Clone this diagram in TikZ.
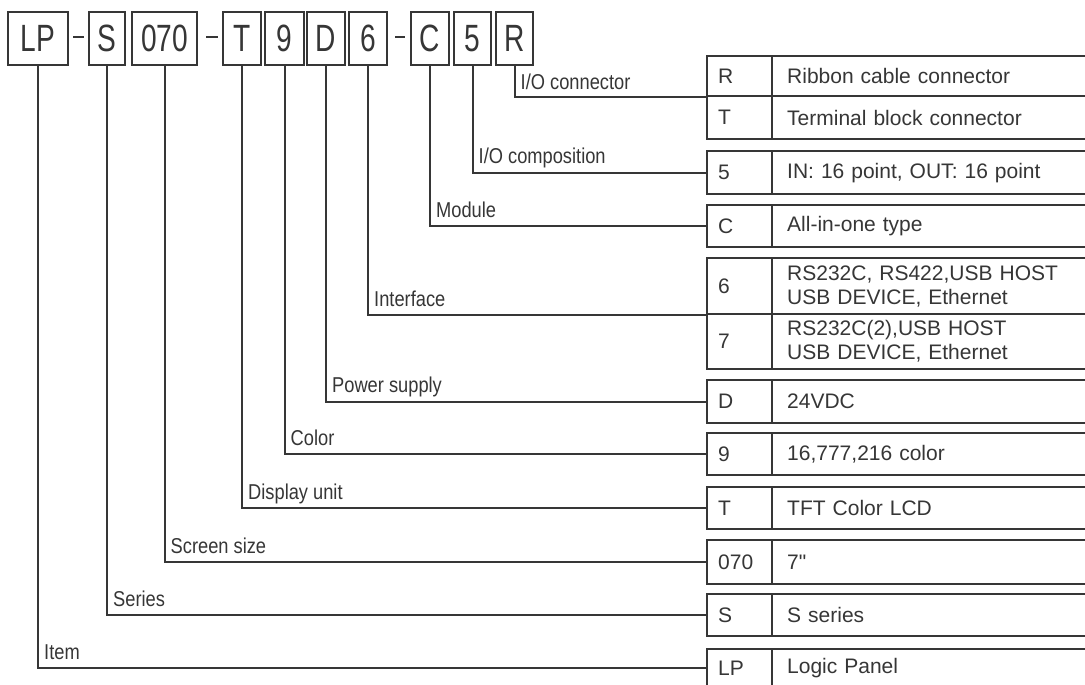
\documentclass[tikz,border=0pt]{standalone}
\usepackage{fontspec}
\setmainfont{Liberation Sans}
\setmonofont{Liberation Sans}
\newfontfamily\narrowfont[FakeStretch=0.85]{Liberation Sans}
\newfontfamily\topfont[FakeStretch=0.74]{Liberation Sans}
\usetikzlibrary{calc}
\definecolor{ink}{HTML}{363636}
\begin{document}
\begin{tikzpicture}[x=1pt,y=-1pt,
  topbox/.style={draw=ink, line width=2pt, minimum height=53pt, inner sep=0pt, anchor=north west,
    font=\topfont\fontsize{38}{40}\selectfont, text=ink},
  conn/.style={draw=ink, line width=2pt},
  dashline/.style={draw=ink, line width=2pt},
  lbl/.style={anchor=base west, inner sep=0pt, font=\narrowfont\fontsize{21.5}{24}\selectfont, text=ink},
  codecell/.style={draw=ink, line width=2.4pt, anchor=north west, minimum width=65pt, inner xsep=11pt, inner ysep=0pt,
    text width=43pt, align=left, font=\fontsize{21}{24}\selectfont, text=ink},
  desccell/.style={draw=ink, line width=2.4pt, anchor=north west, minimum width=329pt, inner xsep=15pt, inner ysep=0pt,
    text width=299pt, align=left, font=\fontsize{21}{24}\selectfont, text=ink}
]
\useasboundingbox (0,0) rectangle (1085,685);
\clip (0,0) rectangle (1085,685);
\fill[white] (0,0) rectangle (1085,685);

% top code boxes
\node[topbox, minimum width=60pt] (bLP) at (7,11) {LP};
\node[topbox, minimum width=36pt] (bS) at (88,11) {S};
\node[topbox, minimum width=65pt] (b070) at (131,11) {070};
\node[topbox, minimum width=38pt] (bT) at (222,11) {T};
\node[topbox, minimum width=39pt] (b9) at (264,11) {9};
\node[topbox, minimum width=38pt] (bD) at (306,11) {D};
\node[topbox, minimum width=38pt] (b6) at (348,11) {6};
\node[topbox, minimum width=38pt] (bC) at (410,11) {C};
\node[topbox, minimum width=37pt] (b5) at (453,11) {5};
\node[topbox, minimum width=37pt] (bR) at (495,11) {R};

% dashes
\draw[dashline] ($(bLP.east)+(4,-1)$) -- ($(bS.west)+(-4,-1)$);
\draw[dashline] ($(b070.east)+(8,-1)$) -- ($(bT.west)+(-4,-1)$);
\draw[dashline] ($(b6.east)+(7,-1)$) -- ($(bC.west)+(-5,-1)$);

% table
\node[codecell, minimum height=40pt] (cR) at (706,55) {R};
\node[desccell, minimum height=40pt] (dR) at (771,55) {Ribbon cable connector};
\node[codecell, minimum height=43pt] (cTT) at (706,95) {T};
\node[desccell, minimum height=43pt] (dTT) at (771,95) {Terminal block connector};

\node[codecell, minimum height=43pt] (c5) at (706,150) {5};
\node[desccell, minimum height=43pt] (d5) at (771,150) {IN: 16 point, OUT: 16 point};

\node[codecell, minimum height=42pt] (cC) at (706,204) {C};
\node[desccell, minimum height=42pt] (dC) at (771,204) {All-in-one type};

\node[codecell, minimum height=56pt] (c6) at (706,257) {6};
\node[desccell, minimum height=56pt] (d6) at (771,257) {RS232C, RS422,USB HOST\\USB DEVICE, Ethernet};
\node[codecell, minimum height=55pt] (c7) at (706,313) {7};
\node[desccell, minimum height=55pt] (d7) at (771,313) {RS232C(2),USB HOST\\USB DEVICE, Ethernet};

\node[codecell, minimum height=43pt] (cD) at (706,379) {D};
\node[desccell, minimum height=43pt] (dD) at (771,379) {24VDC};

\node[codecell, minimum height=42pt] (c9) at (706,432) {9};
\node[desccell, minimum height=42pt] (d9) at (771,432) {16,777,216 color};

\node[codecell, minimum height=42pt] (cT) at (706,486) {T};
\node[desccell, minimum height=42pt] (dT) at (771,486) {TFT Color LCD};

\node[codecell, minimum height=44pt] (c070) at (706,539) {070};
\node[desccell, minimum height=44pt] (d070) at (771,539) {7{\ttfamily\char34}};

\node[codecell, minimum height=42pt] (cS) at (706,593) {S};
\node[desccell, minimum height=42pt] (dS) at (771,593) {S series};

\node[codecell, minimum height=38pt] (cLP) at (706,648) {LP};
\node[desccell, minimum height=38pt] (dLP) at (771,648) {Logic Panel};

% entry points
\coordinate (eR) at (cR.south west);
\coordinate (e5) at (c5.west);
\coordinate (eC) at (cC.west);
\coordinate (e6) at (c6.south west);
\coordinate (eD) at (cD.west);
\coordinate (e9) at (c9.west);
\coordinate (eT) at (cT.west);
\coordinate (e070) at (c070.west);
\coordinate (eS) at (cS.west);
\coordinate (eLP) at (cLP.west);

% connectors
\foreach \b/\e in {bR/eR, b5/e5, bC/eC, b6/e6, bD/eD, b9/e9, bT/eT, b070/e070, bS/eS, bLP/eLP}
  \draw[conn] (\b.south) |- (\e);

% labels
\node[lbl] (lR) at ($(bR.south |- eR)+(6,-8)$) {I/O connector};
\node[lbl] (l5) at ($(b5.south |- e5)+(6,-9)$) {I/O composition};
\node[lbl] (lC) at ($(bC.south |- eC)+(6,-9)$) {Module};
\node[lbl] (l6) at ($(b6.south |- e6)+(6,-9)$) {Interface};
\node[lbl] (lD) at ($(bD.south |- eD)+(6,-9)$) {Power supply};
\node[lbl] (l9) at ($(b9.south |- e9)+(6,-9)$) {Color};
\node[lbl] (lT) at ($(bT.south |- eT)+(6,-9)$) {Display unit};
\node[lbl] (l070) at ($(b070.south |- e070)+(6,-9)$) {Screen size};
\node[lbl] (lS) at ($(bS.south |- eS)+(6,-9)$) {Series};
\node[lbl] (lLP) at ($(bLP.south |- eLP)+(6,-9)$) {Item};
\end{tikzpicture}
\end{document}
